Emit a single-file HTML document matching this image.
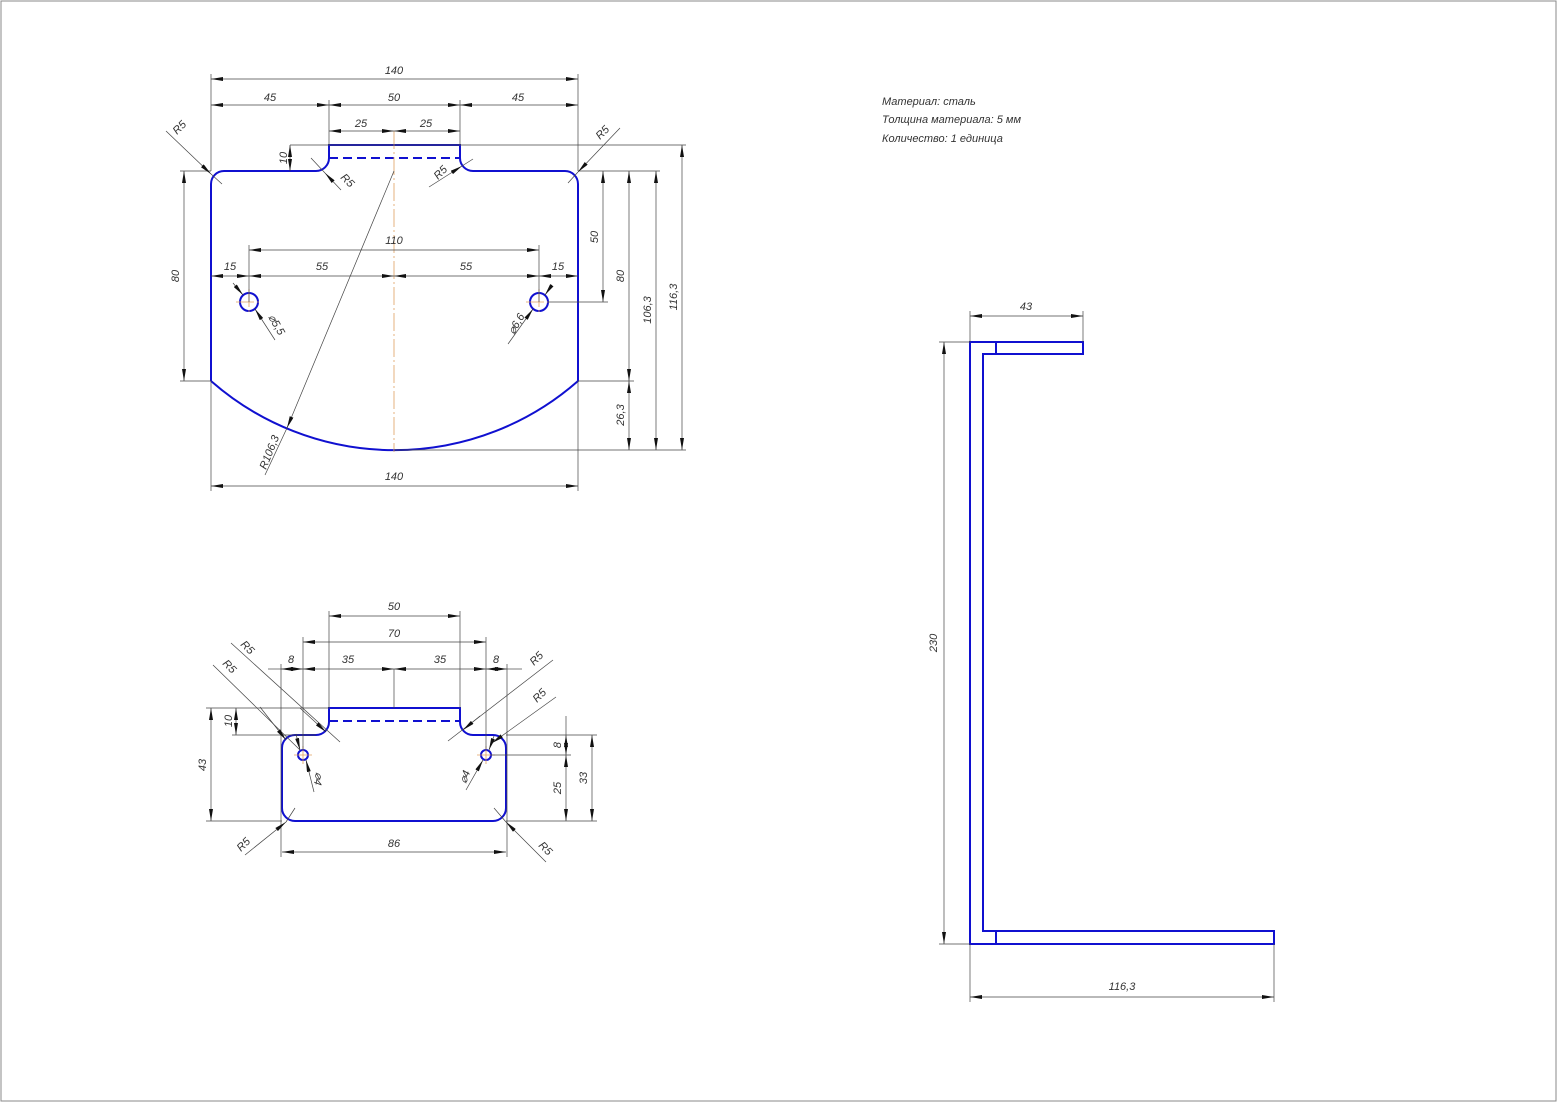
<!DOCTYPE html>
<html><head><meta charset="utf-8"><style>
html,body{margin:0;padding:0;background:#fff}
svg{display:block}
text{font-family:"Liberation Sans",sans-serif;font-style:italic;font-size:11px;fill:#333}
.b{stroke:#1010d0;stroke-width:2;fill:none}
.d{stroke:#444;stroke-width:0.7;fill:none}
.c{stroke:#e0a060;stroke-width:0.8;fill:none;stroke-dasharray:18 3 2 3}
</style></head><body>
<svg width="1558" height="1103" viewBox="0 0 1558 1103" xmlns="http://www.w3.org/2000/svg">
<defs>
<marker id="a" viewBox="0 0 12 4" refX="12" refY="2" markerWidth="12" markerHeight="4" orient="auto-start-reverse" markerUnits="userSpaceOnUse"><path d="M0,0 L12,2 L0,4z" fill="#111"/></marker>
</defs>
<rect x="1" y="1" width="1555" height="1100" fill="none" stroke="#888" stroke-width="1"/>

<!-- ===== TOP VIEW ===== -->
<path class="b" d="M211,381 L211,184 A13,13 0 0 1 224,171 L316,171 A13,13 0 0 0 329,158 L329,145 L460,145 L460,158 A13,13 0 0 0 473,171 L565,171 A13,13 0 0 1 578,184 L578,381 A278,278 0 0 1 211,381"/>
<line class="b" x1="329" y1="158" x2="460" y2="158" stroke-dasharray="9 5"/>
<circle class="b" cx="249" cy="302" r="9"/>
<circle class="b" cx="539" cy="302" r="9"/>
<line class="c" x1="394" y1="131" x2="394" y2="452"/>
<line class="c" x1="236" y1="302" x2="262" y2="302"/><line class="c" x1="249" y1="289" x2="249" y2="315"/>
<line class="c" x1="526" y1="302" x2="552" y2="302"/><line class="c" x1="539" y1="289" x2="539" y2="315"/>
<g class="d">
<line x1="211" y1="74" x2="211" y2="171"/><line x1="578" y1="74" x2="578" y2="171"/>
<line x1="329" y1="100" x2="329" y2="145"/><line x1="460" y1="100" x2="460" y2="145"/>
<line x1="211" y1="381" x2="211" y2="491"/><line x1="578" y1="381" x2="578" y2="491"/>
<line x1="249" y1="245" x2="249" y2="302"/><line x1="539" y1="245" x2="539" y2="302"/>
<line x1="290" y1="145" x2="686" y2="145"/>
<line x1="180" y1="171" x2="211" y2="171"/><line x1="180" y1="381" x2="211" y2="381"/>
<line x1="578" y1="171" x2="660" y2="171"/>
<line x1="548" y1="302" x2="608" y2="302"/>
<line x1="578" y1="381" x2="634" y2="381"/>
<line x1="394" y1="450" x2="686" y2="450"/>
<line x1="211" y1="79" x2="578" y2="79" marker-start="url(#a)" marker-end="url(#a)"/>
<line x1="211" y1="105" x2="329" y2="105" marker-start="url(#a)" marker-end="url(#a)"/>
<line x1="329" y1="105" x2="460" y2="105" marker-start="url(#a)" marker-end="url(#a)"/>
<line x1="460" y1="105" x2="578" y2="105" marker-start="url(#a)" marker-end="url(#a)"/>
<line x1="329" y1="131" x2="394" y2="131" marker-start="url(#a)" marker-end="url(#a)"/>
<line x1="394" y1="131" x2="460" y2="131" marker-start="url(#a)" marker-end="url(#a)"/>
<line x1="290" y1="145" x2="290" y2="171" marker-start="url(#a)" marker-end="url(#a)"/>
<line x1="184" y1="171" x2="184" y2="381" marker-start="url(#a)" marker-end="url(#a)"/>
<line x1="249" y1="250" x2="539" y2="250" marker-start="url(#a)" marker-end="url(#a)"/>
<line x1="211" y1="276" x2="249" y2="276" marker-start="url(#a)" marker-end="url(#a)"/>
<line x1="249" y1="276" x2="394" y2="276" marker-start="url(#a)" marker-end="url(#a)"/>
<line x1="394" y1="276" x2="539" y2="276" marker-start="url(#a)" marker-end="url(#a)"/>
<line x1="539" y1="276" x2="578" y2="276" marker-start="url(#a)" marker-end="url(#a)"/>
<line x1="603" y1="171" x2="603" y2="302" marker-start="url(#a)" marker-end="url(#a)"/>
<line x1="629" y1="171" x2="629" y2="381" marker-start="url(#a)" marker-end="url(#a)"/>
<line x1="629" y1="381" x2="629" y2="450" marker-start="url(#a)" marker-end="url(#a)"/>
<line x1="656" y1="171" x2="656" y2="450" marker-start="url(#a)" marker-end="url(#a)"/>
<line x1="682" y1="145" x2="682" y2="450" marker-start="url(#a)" marker-end="url(#a)"/>
<line x1="211" y1="486" x2="578" y2="486" marker-start="url(#a)" marker-end="url(#a)"/>
<line x1="166" y1="131" x2="211" y2="174" marker-end="url(#a)"/><line x1="211" y1="174" x2="222" y2="184"/>
<line x1="620" y1="128" x2="578" y2="172" marker-end="url(#a)"/><line x1="578" y1="172" x2="568" y2="183"/>
<line x1="341" y1="190" x2="325" y2="173" marker-end="url(#a)"/><line x1="325" y1="173" x2="311" y2="158"/>
<line x1="429" y1="187" x2="462" y2="166" marker-end="url(#a)"/><line x1="462" y1="166" x2="473" y2="159"/>
<line x1="394" y1="171" x2="287" y2="428" marker-end="url(#a)"/><line x1="287" y1="428" x2="265" y2="475"/>
<line x1="233" y1="283" x2="243" y2="295" marker-end="url(#a)"/><line x1="255" y1="309" x2="275" y2="340" marker-start="url(#a)"/>
<line x1="552" y1="285" x2="545" y2="295" marker-end="url(#a)"/><line x1="533" y1="309" x2="508" y2="344" marker-start="url(#a)"/>
</g>
<text x="394" y="74" text-anchor="middle">140</text>
<text x="270" y="101" text-anchor="middle">45</text>
<text x="394" y="101" text-anchor="middle">50</text>
<text x="518" y="101" text-anchor="middle">45</text>
<text x="361" y="127" text-anchor="middle">25</text>
<text x="426" y="127" text-anchor="middle">25</text>
<text x="394" y="244" text-anchor="middle">110</text>
<text x="230" y="270" text-anchor="middle">15</text>
<text x="322" y="270" text-anchor="middle">55</text>
<text x="466" y="270" text-anchor="middle">55</text>
<text x="558" y="270" text-anchor="middle">15</text>
<text x="394" y="480" text-anchor="middle">140</text>
<text transform="translate(287,158) rotate(-90)" text-anchor="middle">10</text>
<text transform="translate(179,276) rotate(-90)" text-anchor="middle">80</text>
<text transform="translate(598,237) rotate(-90)" text-anchor="middle">50</text>
<text transform="translate(624,276) rotate(-90)" text-anchor="middle">80</text>
<text transform="translate(624,415) rotate(-90)" text-anchor="middle">26,3</text>
<text transform="translate(651,310) rotate(-90)" text-anchor="middle">106,3</text>
<text transform="translate(677,297) rotate(-90)" text-anchor="middle">116,3</text>
<text transform="translate(177,135) rotate(-45)">R5</text>
<text transform="translate(600,140) rotate(-45)">R5</text>
<text transform="translate(340,178) rotate(45)">R5</text>
<text transform="translate(438,180) rotate(-45)">R5</text>
<text transform="translate(266,470) rotate(-68)">R106,3</text>
<text transform="translate(268,317) rotate(60)">⌀5,5</text>
<text transform="translate(514,335) rotate(-60)">⌀6,6</text>

<!-- ===== BOTTOM VIEW ===== -->
<path class="b" d="M282,748 A13,13 0 0 1 295,735 L316,735 A13,13 0 0 0 329,722 L329,708 L460,708 L460,722 A13,13 0 0 0 473,735 L493,735 A13,13 0 0 1 506,748 L506,808 A13,13 0 0 1 493,821 L295,821 A13,13 0 0 1 282,808 Z"/>
<line class="b" x1="329" y1="721" x2="460" y2="721" stroke-dasharray="9 5"/>
<circle class="b" cx="303" cy="755" r="5"/>
<circle class="b" cx="486" cy="755" r="5"/>
<line class="c" x1="294" y1="755" x2="312" y2="755"/><line class="c" x1="303" y1="746" x2="303" y2="764"/>
<line class="c" x1="477" y1="755" x2="495" y2="755"/><line class="c" x1="486" y1="746" x2="486" y2="764"/>
<g class="d">
<line x1="329" y1="611" x2="329" y2="708"/><line x1="460" y1="611" x2="460" y2="708"/>
<line x1="303" y1="637" x2="303" y2="750"/><line x1="486" y1="637" x2="486" y2="750"/>
<line x1="281" y1="664" x2="281" y2="857"/><line x1="507" y1="664" x2="507" y2="857"/>
<line x1="394" y1="669" x2="394" y2="708"/>
<line x1="206" y1="708" x2="329" y2="708"/><line x1="232" y1="735" x2="316" y2="735"/>
<line x1="206" y1="821" x2="282" y2="821"/>
<line x1="506" y1="735" x2="597" y2="735"/><line x1="491" y1="755" x2="571" y2="755"/>
<line x1="506" y1="821" x2="597" y2="821"/>
<line x1="329" y1="616" x2="460" y2="616" marker-start="url(#a)" marker-end="url(#a)"/>
<line x1="303" y1="642" x2="486" y2="642" marker-start="url(#a)" marker-end="url(#a)"/>
<line x1="268" y1="669" x2="281" y2="669"/><line x1="281" y1="669" x2="303" y2="669" marker-start="url(#a)" marker-end="url(#a)"/>
<line x1="303" y1="669" x2="394" y2="669" marker-start="url(#a)" marker-end="url(#a)"/>
<line x1="394" y1="669" x2="486" y2="669" marker-start="url(#a)" marker-end="url(#a)"/>
<line x1="486" y1="669" x2="507" y2="669" marker-start="url(#a)" marker-end="url(#a)"/><line x1="507" y1="669" x2="522" y2="669"/>
<line x1="236" y1="708" x2="236" y2="735" marker-start="url(#a)" marker-end="url(#a)"/>
<line x1="211" y1="708" x2="211" y2="821" marker-start="url(#a)" marker-end="url(#a)"/>
<line x1="566" y1="716" x2="566" y2="735"/>
<line x1="566" y1="735" x2="566" y2="755" marker-start="url(#a)" marker-end="url(#a)"/>
<line x1="566" y1="755" x2="566" y2="821" marker-start="url(#a)" marker-end="url(#a)"/>
<line x1="592" y1="735" x2="592" y2="821" marker-start="url(#a)" marker-end="url(#a)"/>
<line x1="282" y1="852" x2="506" y2="852" marker-start="url(#a)" marker-end="url(#a)"/>
<line x1="231" y1="643" x2="340" y2="742"/><line x1="300" y1="708" x2="326" y2="732" marker-end="url(#a)"/>
<line x1="213" y1="665" x2="300" y2="750"/><line x1="260" y1="707" x2="286" y2="740" marker-end="url(#a)"/>
<line x1="553" y1="660" x2="448" y2="741"/><line x1="480" y1="716" x2="463" y2="730" marker-end="url(#a)"/>
<line x1="556" y1="697" x2="492" y2="743" marker-end="url(#a)"/>
<line x1="245" y1="855" x2="286" y2="822" marker-end="url(#a)"/><line x1="286" y1="822" x2="295" y2="808"/>
<line x1="546" y1="862" x2="506" y2="822" marker-end="url(#a)"/><line x1="506" y1="822" x2="494" y2="808"/>
<line x1="296" y1="734" x2="300" y2="750" marker-end="url(#a)"/><line x1="306" y1="760" x2="314" y2="792" marker-start="url(#a)"/>
<line x1="494" y1="736" x2="489" y2="750" marker-end="url(#a)"/><line x1="483" y1="760" x2="466" y2="790" marker-start="url(#a)"/>
</g>
<text x="394" y="610" text-anchor="middle">50</text>
<text x="394" y="637" text-anchor="middle">70</text>
<text x="291" y="663" text-anchor="middle">8</text>
<text x="348" y="663" text-anchor="middle">35</text>
<text x="440" y="663" text-anchor="middle">35</text>
<text x="496" y="663" text-anchor="middle">8</text>
<text x="394" y="847" text-anchor="middle">86</text>
<text transform="translate(232,721) rotate(-90)" text-anchor="middle">10</text>
<text transform="translate(206,765) rotate(-90)" text-anchor="middle">43</text>
<text transform="translate(561,745) rotate(-90)" text-anchor="middle">8</text>
<text transform="translate(561,788) rotate(-90)" text-anchor="middle">25</text>
<text transform="translate(587,778) rotate(-90)" text-anchor="middle">33</text>
<text transform="translate(240,645) rotate(45)">R5</text>
<text transform="translate(222,664) rotate(45)">R5</text>
<text transform="translate(534,666) rotate(-45)">R5</text>
<text transform="translate(537,703) rotate(-45)">R5</text>
<text transform="translate(241,852) rotate(-45)">R5</text>
<text transform="translate(538,846) rotate(45)">R5</text>
<text transform="translate(316,772) rotate(100)">⌀4</text>
<text transform="translate(466,784) rotate(-70)">⌀4</text>

<!-- ===== TEXT ===== -->
<text x="882" y="105" font-size="10.5">Материал: сталь</text>
<text x="882" y="123" font-size="10.5">Толщина материала: 5 мм</text>
<text x="882" y="142" font-size="10.5">Количество: 1 единица</text>

<!-- ===== SIDE VIEW ===== -->
<path class="b" d="M970,342 L1083,342 L1083,354 L983,354 L983,931 L1274,931 L1274,944 L970,944 Z"/>
<line class="b" x1="996" y1="342" x2="996" y2="354"/>
<line class="b" x1="996" y1="931" x2="996" y2="944"/>
<g class="d">
<line x1="970" y1="311" x2="970" y2="342"/><line x1="1083" y1="311" x2="1083" y2="342"/>
<line x1="970" y1="316" x2="1083" y2="316" marker-start="url(#a)" marker-end="url(#a)"/>
<line x1="939" y1="342" x2="970" y2="342"/><line x1="939" y1="944" x2="970" y2="944"/>
<line x1="944" y1="342" x2="944" y2="944" marker-start="url(#a)" marker-end="url(#a)"/>
<line x1="970" y1="944" x2="970" y2="1002"/><line x1="1274" y1="944" x2="1274" y2="1002"/>
<line x1="970" y1="997" x2="1274" y2="997" marker-start="url(#a)" marker-end="url(#a)"/>
</g>
<text x="1026" y="310" text-anchor="middle">43</text>
<text transform="translate(937,643) rotate(-90)" text-anchor="middle" font-size="15">230</text>
<text x="1122" y="990" text-anchor="middle" font-size="15">116,3</text>
</svg>
</body></html>
